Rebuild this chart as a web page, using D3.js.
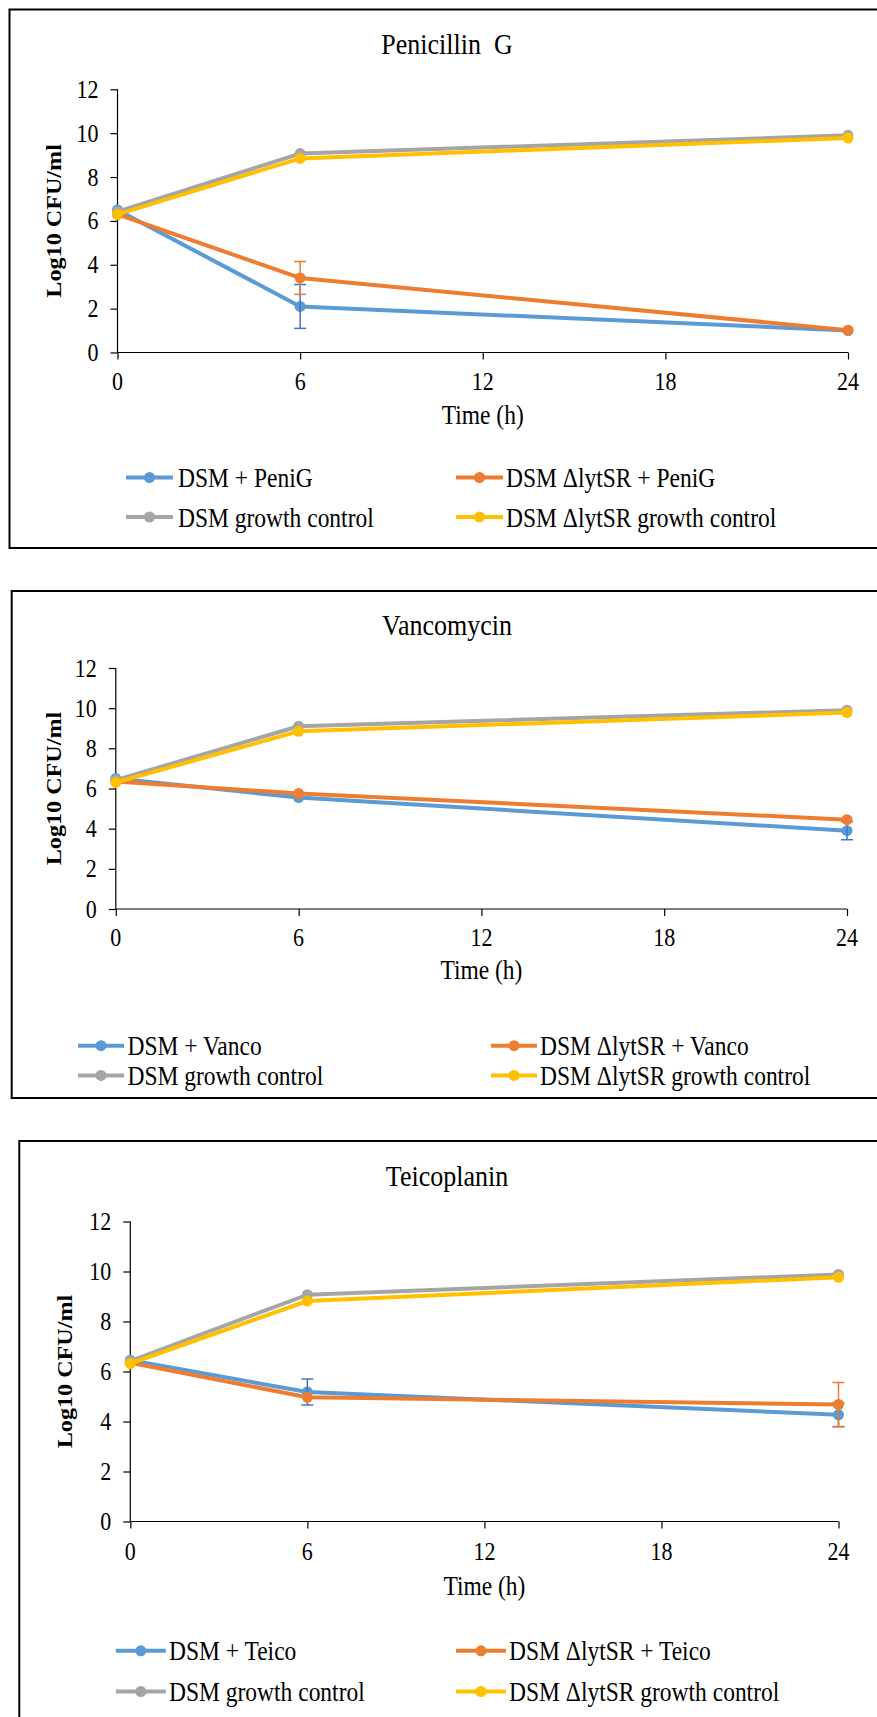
<!DOCTYPE html>
<html>
<head>
<meta charset="utf-8">
<script src="https://cdn.jsdelivr.net/npm/d3@7"></script>
<style>
  body { margin: 0; background: #fff; }
</style>
</head>
<body>
<svg id="chart" width="877" height="1717"></svg>
<script>
// data
var hours = [0, 6, 24];
var xTicks = [0, 6, 12, 18, 24];
var yTicks = [0, 2, 4, 6, 8, 10, 12];
var titles = ['Penicillin  G', 'Vancomycin', 'Teicoplanin'];
var drugs = ['PeniG', 'Vanco', 'Teico'];

var peniBlue = [6.5, 2.1, 1.0];
var peniOrange = [6.3, 3.4, 1.02];
var peniGray = [6.42, 9.07, 9.9];
var peniYellow = [6.3, 8.85, 9.78];
var peniBlueErr = [0, 1.0, 0];
var peniOrangeErr = [0, 0.75, 0];

var vancoBlue = [6.5, 5.55, 3.9];
var vancoOrange = [6.35, 5.75, 4.45];
var vancoGray = [6.42, 9.1, 9.9];
var vancoYellow = [6.3, 8.85, 9.78];
var vancoBlueErr = [0, 0, 0.45];
var vancoOrangeErr = [0, 0, 0];

var teicoBlue = [6.45, 5.18, 4.27];
var teicoOrange = [6.35, 4.97, 4.68];
var teicoGray = [6.42, 9.07, 9.88];
var teicoYellow = [6.32, 8.82, 9.77];
var teicoBlueErr = [0, 0.52, 0.48];
var teicoOrangeErr = [0, 0, 0.88];

var colors = ['#5B9BD5', '#ED7D31', '#A5A5A5', '#FFC000'];
var errColors = ['#4472C4', '#ED7D31'];

var svg = d3.select('#chart');
var serif = 'Liberation Serif';
var stretch = 'scale(1,1.15)'; // the source text looks tall and narrow

// helper so every label gets the same font
function label(sel, size) {
  return sel.append('text')
    .attr('font-family', serif)
    .attr('font-size', size)
    .attr('fill', '#000')
    .attr('dominant-baseline', 'central');
}

// layout of the three panels
var panels = [
  {box: {x: 9.5, y: 9.5, b: 548}, plot: {l: 117.5, r: 848, t: 89.3, b: 352.5},
   titleY: 43.6, tickDy: 28.5, timeDy: 61.5, ylabX: 54,
   rows: [477.5, 517], cols: [{line: 126, text: 178}, {line: 456, text: 506}], len: 47,
   series: [peniBlue, peniOrange, peniGray, peniYellow], errs: [peniBlueErr, peniOrangeErr]},
  {box: {x: 11.7, y: 591, b: 1098}, plot: {l: 115.8, r: 847, t: 668, b: 909},
   titleY: 625, tickDy: 28, timeDy: 60, ylabX: 54,
   rows: [1045.7, 1075.4], cols: [{line: 78, text: 127.5}, {line: 491, text: 540}], len: 46,
   series: [vancoBlue, vancoOrange, vancoGray, vancoYellow], errs: [vancoBlueErr, vancoOrangeErr]},
  {box: {x: 19.3, y: 1141, b: 1760}, plot: {l: 130.3, r: 838.5, t: 1221.5, b: 1521.5},
   titleY: 1176, tickDy: 29.5, timeDy: 64, ylabX: 65.4,
   rows: [1650.8, 1691.5], cols: [{line: 115.8, text: 169}, {line: 456, text: 509}], len: 50,
   series: [teicoBlue, teicoOrange, teicoGray, teicoYellow], errs: [teicoBlueErr, teicoOrangeErr]}
];

panels.forEach(function(p, k) {
  var g = svg.append('g').attr('class', 'panel');

  // outer frame (runs off the right edge like the source)
  g.append('rect')
    .attr('x', p.box.x).attr('y', p.box.y)
    .attr('width', 900).attr('height', p.box.b - p.box.y)
    .attr('fill', 'none').attr('stroke', '#000').attr('stroke-width', 2);

  var x = d3.scaleLinear().domain([0, 24]).range([p.plot.l, p.plot.r]);
  var y = d3.scaleLinear().domain([0, 12]).range([p.plot.b, p.plot.t]);

  // title
  label(g, 26)
    .attr('transform', 'translate(' + [447, p.titleY] + ') ' + stretch)
    .attr('text-anchor', 'middle')
    .style('white-space', 'pre')
    .text(titles[k]);

  // axes
  var yAxis = g.append('g')
    .attr('transform', 'translate(' + p.plot.l + ',0)')
    .call(d3.axisLeft(y).tickValues(yTicks).tickSize(7).tickFormat(''));
  var xAxis = g.append('g')
    .attr('transform', 'translate(0,' + p.plot.b + ')')
    .call(d3.axisBottom(x).tickValues(xTicks).tickSize(7).tickFormat(''));
  xAxis.select('.domain').attr('d', 'M' + p.plot.l + ',0H' + p.plot.r);
  yAxis.select('.domain').attr('d', 'M0,' + p.plot.b + 'V' + p.plot.t);
  [xAxis, yAxis].forEach(function(a) {
    a.select('.domain').attr('stroke', '#000').attr('stroke-width', 1.2);
    a.selectAll('.tick line').attr('stroke', '#000').attr('stroke-width', 1.2);
  });

  // tick labels
  yTicks.forEach(function(d) {
    label(g, 22)
      .attr('transform', 'translate(' + [p.plot.l - 19, y(d)] + ') ' + stretch)
      .attr('text-anchor', 'end')
      .text(d);
  });
  xTicks.forEach(function(d) {
    label(g, 22)
      .attr('transform', 'translate(' + [x(d), p.plot.b + p.tickDy] + ') ' + stretch)
      .attr('text-anchor', 'middle')
      .text(d);
  });

  // axis titles
  label(g, 23.5)
    .attr('transform', 'translate(' + [(p.plot.l + p.plot.r) / 2, p.plot.b + p.timeDy] + ') ' + stretch)
    .attr('text-anchor', 'middle')
    .text('Time (h)');
  label(g, 21)
    .attr('transform', 'translate(' + [p.ylabX, (p.plot.t + p.plot.b) / 2] + ') scale(1,1.15) rotate(-90)')
    .attr('text-anchor', 'middle')
    .attr('font-weight', 'bold')
    .text('Log10 CFU/ml');

  // lines, markers and error bars
  var line = d3.line().x(function(d, i) { return x(hours[i]); }).y(function(d) { return y(d); });
  p.series.forEach(function(vals, s) {
    g.append('path').datum(vals)
      .attr('d', line).attr('fill', 'none')
      .attr('stroke', colors[s]).attr('stroke-width', 4)
      .attr('stroke-linejoin', 'round');
    g.selectAll('.pt' + s).data(vals).enter().append('circle')
      .attr('cx', function(d, i) { return x(hours[i]); })
      .attr('cy', function(d) { return y(d); })
      .attr('r', 5.5).attr('fill', colors[s]);
    if (s < 2) {
      var err = p.errs[s];
      var eg = g.append('g').attr('stroke', errColors[s]).attr('stroke-width', 1.5);
      vals.forEach(function(v, i) {
        if (!err[i]) return;
        var cx = x(hours[i]);
        eg.append('line').attr('x1', cx).attr('x2', cx).attr('y1', y(v - err[i])).attr('y2', y(v + err[i]));
        eg.append('line').attr('x1', cx - 6).attr('x2', cx + 6).attr('y1', y(v - err[i])).attr('y2', y(v - err[i]));
        eg.append('line').attr('x1', cx - 6).attr('x2', cx + 6).attr('y1', y(v + err[i])).attr('y2', y(v + err[i]));
      });
    }
  });

  // legend
  var names = ['DSM + ' + drugs[k], 'DSM \u0394lytSR + ' + drugs[k], 'DSM growth control', 'DSM \u0394lytSR growth control'];
  names.forEach(function(n, s) {
    var col = p.cols[s % 2];
    var ry = p.rows[Math.floor(s / 2)];
    g.append('line')
      .attr('x1', col.line).attr('x2', col.line + p.len)
      .attr('y1', ry).attr('y2', ry)
      .attr('stroke', colors[s]).attr('stroke-width', 4);
    g.append('circle')
      .attr('cx', col.line + p.len / 2).attr('cy', ry)
      .attr('r', 5.5).attr('fill', colors[s]);
    label(g, 23.5)
      .attr('transform', 'translate(' + [col.text, ry] + ') ' + stretch)
      .text(n);
  });
});
</script>
</body>
</html>
